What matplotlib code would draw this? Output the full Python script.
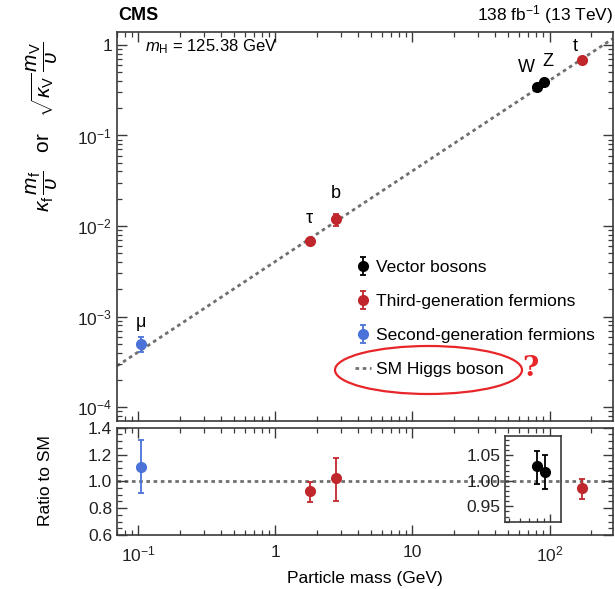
import matplotlib
matplotlib.use("Agg")
import matplotlib.pyplot as plt
from matplotlib.patches import Ellipse
from matplotlib.ticker import FixedLocator, FixedFormatter, LogLocator, NullFormatter, MultipleLocator
import numpy as np

plt.rcParams['font.family'] = ['Liberation Sans', 'DejaVu Sans']
plt.rcParams['mathtext.fontset'] = 'custom'
plt.rcParams['mathtext.rm'] = 'Liberation Sans'
plt.rcParams['mathtext.it'] = 'Liberation Sans:italic'
plt.rcParams['mathtext.bf'] = 'Liberation Sans:bold'

# ---------------- data ----------------
particles = ['μ', 'τ', 'b', 't', 'W', 'Z']
vec_mass = [80.4, 91.2]
vec_value = [0.34, 0.385]
vec_ratio = [1.029, 1.018]
vec_err_up = [0.030, 0.033]
vec_err_dn = [0.035, 0.034]

third_mass = [1.78, 2.76, 172.7]
third_value = [6.8e-3, 1.19e-2, 0.68]
third_ratio = [0.926, 1.022, 0.95]
third_err_up = [0.072, 0.150, 0.070]
third_err_dn = [0.083, 0.172, 0.085]

second_mass = [0.1046]
second_value = [4.97e-4]
second_ratio = [1.108]
second_err_up = [0.199]
second_err_dn = [0.196]

sm_mass = [0.07, 290.0]
sm_value = [2.84e-4, 1.178]

x_ticks = [0.1, 1, 10, 100]
x_ticklabels = ['$10^{-1}$', '1', '10', '$10^{2}$']
y_ticks = [1e-4, 1e-3, 1e-2, 1e-1, 1]
y_ticklabels = ['$10^{-4}$', '$10^{-3}$', '$10^{-2}$', '$10^{-1}$', '1']
ratio_ticks = [0.6, 0.8, 1.0, 1.2, 1.4]
inset_ticks = [0.95, 1.00, 1.05]

RED = '#c0272d'
BLUE = '#4a72d9'
BLACK = '#000000'
GRAY = '#707070'
SPINE = '#3a3a3a'

W, H = 615, 589
fig = plt.figure(figsize=(W / 100, H / 100), dpi=100)

def fx(px):
    return px / W

def fy(py):
    return 1 - py / H

ax = fig.add_axes([fx(117), fy(420.7), fx(613) - fx(117), fy(32.3) - fy(420.7)])
axr = fig.add_axes([fx(117), fy(535), fx(613) - fx(117), fy(427.7) - fy(535)])

xlim = (0.07, 290)

def style(a):
    for s in a.spines.values():
        s.set_linewidth(1.2)
        s.set_color(SPINE)
    a.tick_params(which='both', direction='in', top=True, right=True, colors=SPINE,
                  labelcolor='#222222', labelsize=12.5)
    a.tick_params(which='major', length=7, width=1.0)
    a.tick_params(which='minor', length=3.5, width=0.9)

# ---------- main panel ----------
ax.set_xscale('log')
ax.set_yscale('log')
ax.set_xlim(*xlim)
ax.set_ylim(7.06e-5, 1.38)
ax.plot(sm_mass, sm_value, color=GRAY, lw=2.0, dashes=(1.3, 1.3), label='SM Higgs boson', zorder=1)

def rel(vals, ratios, errs):
    return [v * e / r for v, r, e in zip(vals, ratios, errs)]

ms = 7
h_vec = ax.errorbar(vec_mass, vec_value,
                    yerr=[rel(vec_value, vec_ratio, vec_err_dn), rel(vec_value, vec_ratio, vec_err_up)],
                    fmt='o', color=BLACK, ms=ms, capsize=2.5, elinewidth=1.3, capthick=1.3,
                    label='Vector bosons', zorder=3)
h_third = ax.errorbar(third_mass, third_value,
                      yerr=[rel(third_value, third_ratio, third_err_dn), rel(third_value, third_ratio, third_err_up)],
                      fmt='o', color=RED, ms=ms, capsize=2.5, elinewidth=1.3, capthick=1.3,
                      label='Third-generation fermions', zorder=3)
h_second = ax.errorbar(second_mass, second_value,
                       yerr=[rel(second_value, second_ratio, second_err_dn), rel(second_value, second_ratio, second_err_up)],
                       fmt='o', color=BLUE, ms=ms, capsize=2.5, elinewidth=1.3, capthick=1.3,
                       label='Second-generation fermions', zorder=3)

style(ax)
ax.xaxis.set_major_locator(FixedLocator(x_ticks))
ax.xaxis.set_minor_locator(LogLocator(base=10, subs=np.arange(2, 10)))
ax.xaxis.set_major_formatter(NullFormatter())
ax.xaxis.set_minor_formatter(NullFormatter())
ax.yaxis.set_major_locator(FixedLocator(y_ticks))
ax.yaxis.set_major_formatter(FixedFormatter(y_ticklabels))
ax.yaxis.set_minor_locator(LogLocator(base=10, subs=np.arange(2, 10)))
ax.yaxis.set_minor_formatter(NullFormatter())

# point labels
lab_fs = 13
ax.text(0.1046, 8.6e-4, 'μ', ha='center', va='center', fontsize=lab_fs)
ax.text(1.78, 1.2e-2, 'τ', ha='center', va='center', fontsize=lab_fs)
ax.text(2.76, 2.3e-2, 'b', ha='center', va='center', fontsize=lab_fs)
ax.text(68, 0.57, 'W', ha='center', va='center', fontsize=lab_fs)
ax.text(98, 0.65, 'Z', ha='center', va='center', fontsize=lab_fs)
ax.text(153, 0.97, 't', ha='center', va='center', fontsize=lab_fs)

ax.text(0.056, 0.962, r'$m_\mathrm{H}$ = 125.38 GeV', transform=ax.transAxes,
        ha='left', va='center', fontsize=12)

leg = ax.legend(handles=[h_vec, h_third, h_second, ax.lines[0]],
                labels=['Vector bosons', 'Third-generation fermions', 'Second-generation fermions', 'SM Higgs boson'],
                loc='upper left', bbox_to_anchor=(fx(348), fy(253)), bbox_transform=fig.transFigure,
                frameon=False, fontsize=12.5, handlelength=0.9, handletextpad=0.3,
                labelspacing=1.08, borderaxespad=0)

# ---------- ratio panel ----------
axr.set_xscale('log')
axr.set_xlim(*xlim)
axr.set_ylim(0.6, 1.4)
axr.plot(xlim, [1.0, 1.0], color=GRAY, lw=2.0, dashes=(1.3, 1.3), zorder=1)
axr.errorbar(third_mass, third_ratio, yerr=[third_err_dn, third_err_up], fmt='o', color=RED,
             ms=ms, capsize=2.5, elinewidth=1.3, capthick=1.3, zorder=3)
axr.errorbar(second_mass, second_ratio, yerr=[second_err_dn, second_err_up], fmt='o', color=BLUE,
             ms=ms, capsize=2.5, elinewidth=1.3, capthick=1.3, zorder=3)
style(axr)
axr.xaxis.set_major_locator(FixedLocator(x_ticks))
axr.xaxis.set_major_formatter(FixedFormatter(x_ticklabels))
axr.xaxis.set_minor_locator(LogLocator(base=10, subs=np.arange(2, 10)))
axr.xaxis.set_minor_formatter(NullFormatter())
axr.yaxis.set_major_locator(FixedLocator(ratio_ticks))
axr.yaxis.set_major_formatter(FixedFormatter(['0.6', '0.8', '1.0', '1.2', '1.4']))
axr.yaxis.set_minor_locator(MultipleLocator(0.05))
axr.tick_params(axis='x', which='major', pad=7)

# ---------- inset ----------
axi = fig.add_axes([fx(505), fy(521.7), fx(561) - fx(505), fy(435.7) - fy(521.7)])
axi.set_xscale('log')
axi.set_xlim(47, 120)
axi.set_ylim(0.92, 1.088)
axi.plot([47, 120], [1.0, 1.0], color=GRAY, lw=2.0, dashes=(1.3, 1.3), zorder=1)
axi.errorbar(vec_mass, vec_ratio, yerr=[vec_err_dn, vec_err_up], fmt='o', color=BLACK,
             ms=ms, capsize=2.5, elinewidth=1.3, capthick=1.3, zorder=3)
for s in axi.spines.values():
    s.set_linewidth(1.2)
    s.set_color(SPINE)
axi.tick_params(which='both', direction='in', top=False, right=False, colors=SPINE,
                labelcolor='#222222', labelsize=12.5)
axi.tick_params(which='major', length=6, width=1.0)
axi.tick_params(which='minor', length=3, width=0.9)
axi.xaxis.set_major_locator(FixedLocator([100]))
axi.xaxis.set_minor_locator(LogLocator(base=10, subs=np.arange(2, 10)))
axi.xaxis.set_major_formatter(NullFormatter())
axi.xaxis.set_minor_formatter(NullFormatter())
axi.yaxis.set_major_locator(FixedLocator(inset_ticks))
axi.yaxis.set_major_formatter(FixedFormatter(['0.95', '1.00', '1.05']))
axi.yaxis.set_minor_locator(MultipleLocator(0.01))

# ---------- labels ----------
fig.text(fx(118), fy(15), 'CMS', fontsize=13, fontweight='bold', ha='left', va='center')
fig.text(fx(613), fy(15), r'138 fb$^{-1}$ (13 TeV)', fontsize=12.5, ha='right', va='center')
fig.text(fx(42), fy(127),
         r'$\kappa_\mathrm{f}\,\dfrac{m_\mathrm{f}}{\upsilon}$   or   $\sqrt{\kappa_\mathrm{V}}\,\dfrac{m_\mathrm{V}}{\upsilon}$',
         rotation=90, ha='center', va='center', fontsize=15)
fig.text(fx(45), fy(481), 'Ratio to SM', rotation=90, ha='center', va='center', fontsize=12.5)
fig.text(fx(365), fy(578), 'Particle mass (GeV)', ha='center', va='center', fontsize=12.5)

# red annotation
ell = Ellipse((fx(428.5), fy(370)), width=fx(187), height=48 / H, transform=fig.transFigure,
              fill=False, edgecolor='#e8262a', lw=1.6)
fig.add_artist(ell)
fig.text(fx(530), fy(368), '?', color='#e8262a', fontsize=20, fontweight='bold',
         family=['DejaVu Serif'], ha='center', va='center')

fig.savefig('out.png', dpi=100)
